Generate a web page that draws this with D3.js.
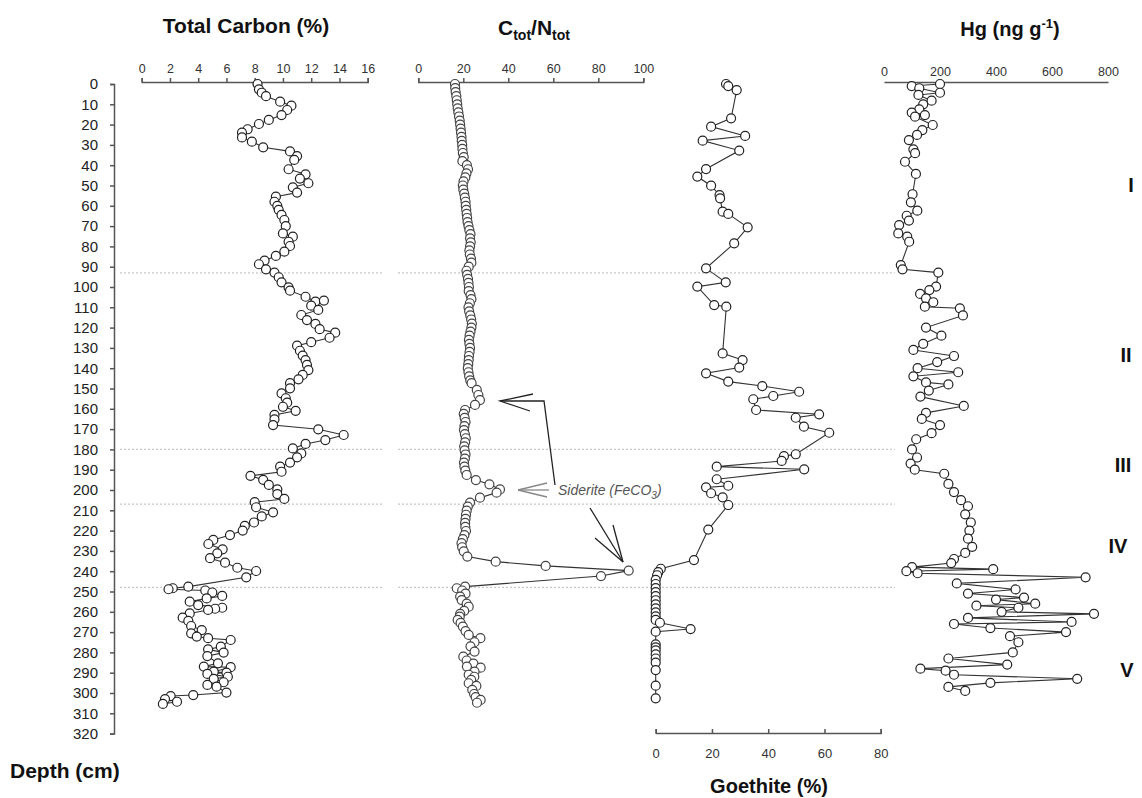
<!DOCTYPE html>
<html><head><meta charset="utf-8">
<script src="https://cdn.jsdelivr.net/npm/d3@7"></script>
<style>
body{margin:0;background:#fff;}
svg{font-family:"Liberation Sans",Arial,sans-serif;}
</style></head>
<body><svg id="c" width="1142" height="798"></svg>
<script>
// ---------- DATA ----------
const depthTicks = d3.range(0, 330, 10);
const tcTicks = [0,2,4,6,8,10,12,14,16];
const cnTicks = [0,20,40,60,80,100];
const goeTicks = [0,20,40,60,80];
const hgTicks = [0,200,400,600,800];
const zoneBounds = [93, 180, 207, 248];
const zoneLabels = ["I","II","III","IV","V"];

// Total carbon (%) : [depth cm, value]
const tcData = [[0,8.2],[2.6,8.3],[4.3,8.5],[6,8.8],[8.7,9.8],[10.7,10.6],[12.8,10.3],[15.3,9.9],[17.7,9.0],[19.7,8.3],[22.3,7.5],[24,7.1],[26.3,7.1],[28.4,7.8],[31.2,8.6],[33.2,10.5],[35.5,11.0],[37.4,10.8],[42,10.4],[44.5,11.6],[46.6,11.2],[48.9,11.8],[50.9,10.7],[53.5,11.0],[55.5,9.5],[58,9.4],[60,9.6],[62,9.7],[64.5,9.9],[67,10.1],[70,10.2],[73.6,10.0],[75.2,10.7],[77.7,10.4],[79.8,10.5],[82.6,10.1],[84.7,9.5],[87,8.7],[88.8,8.3],[91.3,8.8],[92.9,9.4],[95.2,9.7],[97.7,9.9],[100.2,10.4],[101.8,10.5],[104.8,11.6],[107.2,12.3],[106.7,12.9],[109.2,12.0],[111.3,12.5],[113.8,11.3],[116.3,11.7],[118.2,12.3],[120.8,12.6],[122.5,13.7],[125,13.3],[127.2,12.0],[128.9,11.0],[131.4,11.2],[133.8,11.4],[136,11.6],[138.4,11.7],[140.9,11.8],[143.3,11.4],[145.5,11.1],[147.4,10.5],[149.9,10.5],[152.4,9.9],[154.8,10.2],[157,10.3],[159,10.0],[161,10.9],[163,9.4],[165.2,9.4],[168,9.3],[170.1,12.5],[172.9,14.3],[175.4,13.0],[177.3,11.6],[179.5,10.7],[182,11.3],[183.9,11.0],[186.5,10.5],[188.5,9.8],[191,9.9],[193,7.7],[195,8.6],[197.5,9.0],[199.7,9.6],[202,9.6],[204.4,10.1],[206,8.0],[208.5,8.1],[211,9.3],[213,8.5],[216,7.95],[217.7,7.3],[220,7.15],[222.2,6.25],[224.6,5.07],[226.6,4.72],[229.2,5.73],[231.2,5.35],[233.6,4.84],[235.8,5.9],[238.3,6.77],[239.9,8.1],[243,7.4],[247.6,3.3],[248.4,2.2],[248.9,1.9],[249.5,4.5],[250.5,5.0],[252.2,5.7],[253.4,4.6],[255,3.4],[256.7,4.0],[258,5.7],[258.5,5.2],[259.1,4.7],[260.8,3.4],[262.9,2.9],[264.5,3.3],[267,3.5],[269,4.25],[270.6,3.5],[272.2,3.9],[273,4.7],[273.9,6.3],[277.2,5.6],[278.5,4.7],[280.1,5.8],[281.8,4.65],[285.4,5.4],[287,4.4],[287.3,6.3],[289.5,5.1],[290,6.0],[290.6,4.65],[292,6.1],[293,5.1],[294.7,5.8],[296,4.65],[296.9,5.3],[299.8,6.0],[301,3.65],[301.5,2.05],[303,1.65],[304.3,2.5],[305.4,1.5]];

// C/N ratio
const cnData = [[0,16.3],[2,16.4],[4,16.6],[6,16.9],[8,17.1],[10,17.3],[12,17.5],[14,17.8],[16,18.1],[18,18.4],[20,18.6],[22,18.8],[24,19.0],[26,19.2],[28,19.3],[30,19.5],[32,19.6],[34,19.8],[36,20.2],[38,19.6],[40,21.6],[42,22.1],[44,21.4],[46,20.9],[48,20.1],[50,19.8],[52,20.0],[54,20.4],[56,20.7],[58,21.0],[60,21.1],[62,21.3],[64,21.5],[66,21.7],[68,21.9],[70,22.3],[72,22.7],[74,23.2],[76,23.0],[78,23.3],[80,23.0],[82,22.7],[84,22.9],[86,23.4],[88,23.6],[90,22.4],[92,21.4],[94,21.7],[96,22.1],[98,22.3],[100,22.5],[102,22.4],[104,23.2],[106,23.6],[108,22.9],[110,22.3],[112,22.6],[114,23.1],[116,23.5],[118,23.8],[120,23.6],[122,23.2],[124,22.8],[126,22.5],[128,22.7],[130,23.0],[132,22.8],[134,22.5],[136,22.4],[138,22.2],[140,22.0],[142,22.3],[144,22.6],[146,23.1],[147.4,23.7],[150.7,26.0],[153.2,26.7],[155.7,27.4],[158.1,25.2],[160.6,20.8],[162.5,20.2],[164.5,20.6],[166.5,21.0],[168.5,20.5],[170.5,20.3],[172.5,20.7],[174.5,21.1],[176.5,20.8],[178.5,20.4],[180.5,20.6],[182.5,21.0],[184.5,20.7],[186.5,20.3],[188.5,20.5],[190.5,20.9],[192.6,21.5],[195.1,25.6],[197.2,31.6],[199.7,36.3],[201.3,34.8],[203.8,27.4],[206.2,23.0],[208.2,22.0],[210.2,21.5],[212.2,21.2],[214.2,21.0],[216.2,20.8],[218.2,20.9],[220.2,21.2],[222.2,20.5],[224.2,19.8],[226.2,19.2],[228.2,19.5],[230.2,20.2],[232.8,21.8],[235.3,34.4],[237.4,56.6],[239.7,93.5],[242.4,81.2],[247.6,20.8],[248.4,17.1],[249.5,19.5],[251,21.0],[252.5,18.6],[254.2,19.3],[256,21.5],[257.5,22.4],[259.5,20.4],[261,18.6],[262.4,18.4],[264,17.5],[265.5,18.8],[267.3,19.8],[269.5,21.0],[271.4,22.4],[273,27.6],[275,25.0],[277,23.2],[279.6,25.0],[282.1,20.0],[284,21.5],[285.5,24.5],[287,21.6],[287.5,27.7],[289.5,25.0],[291,22.4],[292,24.9],[293.5,23.5],[295.2,22.4],[296.5,25.8],[298.5,24.0],[300.5,24.8],[302,25.5],[303.4,27.7],[304.8,26.1]];

// Goethite (%)
const goeData = [[0,25],[1,25.8],[3,28.8],[16.9,26.8],[21,19.7],[25.6,31.8],[27.9,16.7],[32.8,29.7],[41.9,17.9],[45.6,14.8],[50.1,19.7],[54.7,22.7],[56.3,22.9],[62.9,23.8],[64,25.8],[70.6,32.7],[78.5,27.9],[90.8,17.9],[97.7,24.9],[99.8,14.8],[108.9,20.8],[109.7,25.1],[132.7,23.8],[136,30.9],[139.7,29.7],[142.5,17.9],[146.6,25.8],[148.8,37.9],[151.6,51],[153.7,41.8],[155.3,34.7],[160.6,35.7],[162.7,58.1],[164.4,49.8],[168.8,52.7],[171.8,61.7],[182.4,49.8],[183.3,45.6],[185.7,44.8],[188.5,21.7],[189.8,52.8],[194.7,21.7],[197.9,25.8],[198.7,17.9],[201.6,19.7],[203.6,23.8],[207.4,25.8],[219.5,18.7],[234.5,13.6],[238.8,1.8],[240.5,0.9],[242,0.5],[244.3,0],[246.3,0],[248.3,0],[250.3,0],[252.3,0],[254.3,0],[256.3,0],[258.3,0],[260.3,0],[262.3,0],[264,0],[265.4,1.5],[268.5,12.4],[269.8,0],[276,0],[277.5,0],[279,0],[281,0],[283,0],[285,0],[288.7,0],[296.4,0],[302.6,0]];

// Hg (ng/g)
const hgData = [[0,200],[1,99],[2.1,126],[4.3,200],[5.4,123],[8.2,170],[10,140],[12.5,126],[14.1,99],[15.3,146],[16.1,111],[20.2,174],[22.7,137],[25.1,118],[27.6,89],[32.2,105],[34.1,111],[38.3,75],[44.3,114],[54.3,102],[58.3,96],[62.4,119],[64.9,81],[67.3,89],[69.5,54],[73.6,51],[75.2,83],[77.7,90],[89.2,60],[91.3,66],[92.9,194],[99.8,186],[101.5,162],[103.4,129],[105.6,150],[107.5,176],[109.7,146],[110.5,271],[114,282],[120,150],[124,205],[128,140],[131,105],[134,250],[137,190],[140,120],[142,265],[144,105],[147,150],[148,230],[151,160],[154,130],[158.6,285],[162,150],[165,135],[168,200],[172,170],[175,115],[180,100],[184,118],[187,95],[190,110],[192,215],[197,230],[201,250],[205,275],[208,300],[212,290],[216,310],[220,305],[224,300],[228,315],[231,290],[234,250],[236,240],[238,100],[239,390],[240,80],[241,120],[243,720],[246,260],[249,470],[251,300],[253,500],[254,400],[256,540],[257,330],[258,480],[260,420],[261,750],[263,300],[265,670],[266,250],[268,380],[270,650],[272,450],[275,480],[280,460],[283,230],[286,440],[288,130],[289,220],[291,250],[293,690],[295,380],[297,230],[299,290]];

// ---------- SCALES ----------
const svg = d3.select("#c");
const y = d3.scaleLinear().domain([0,320]).range([84,733.6]);
const xTC = d3.scaleLinear().domain([0,16]).range([141.7,367.7]);
const xCN = d3.scaleLinear().domain([0,100]).range([418.3,643.3]);
const xG  = d3.scaleLinear().domain([0,80]).range([655.7,880.7]);
const xHg = d3.scaleLinear().domain([0,800]).range([884,1108]);

// zone dotted lines
zoneBounds.forEach(d=>{
  [[120,382],[398,895]].forEach(s=>{
    svg.append("line").attr("x1",s[0]).attr("x2",s[1])
      .attr("y1",y(d)).attr("y2",y(d))
      .attr("stroke","#c8c8c8").attr("stroke-width",1.2).attr("stroke-dasharray","2,2");
  });
});

// ---------- AXES ----------
function styleAxis(g, fs){
  g.select(".domain").attr("stroke","#555").attr("stroke-width",1.5);
  g.selectAll(".tick line").attr("stroke","#555").attr("stroke-width",1.5);
  g.selectAll(".tick text").attr("fill","#333").attr("font-size",fs).attr("font-family","Liberation Sans, Arial, sans-serif");
}
const gD = svg.append("g").attr("transform","translate(114,0)")
  .call(d3.axisLeft(y).tickValues(depthTicks).tickSize(4).tickPadding(12));
styleAxis(gD,15);
gD.selectAll(".tick text").attr("fill","#222");

const gTC = svg.append("g").attr("transform","translate(0,82)")
  .call(d3.axisTop(xTC).tickValues(tcTicks).tickSize(4).tickPadding(5));
styleAxis(gTC,12.5);

const gCN = svg.append("g").attr("transform","translate(0,82)")
  .call(d3.axisTop(xCN).tickValues(cnTicks).tickSize(4).tickPadding(5));
styleAxis(gCN,12.5);

const gG = svg.append("g").attr("transform","translate(0,733)")
  .call(d3.axisBottom(xG).tickValues(goeTicks).tickSizeInner(-4).tickSizeOuter(-4).tickPadding(16));
styleAxis(gG,13);

const gH = svg.append("g").attr("transform","translate(0,82)")
  .call(d3.axisTop(xHg).tickValues(hgTicks).tickSize(0).tickPadding(6));
styleAxis(gH,12.5);

// ---------- SERIES ----------
function series(data, xs, stroke){
  const line = d3.line().x(d=>xs(d[1])).y(d=>y(d[0]));
  svg.append("path").datum(data).attr("d",line)
    .attr("fill","none").attr("stroke","#333").attr("stroke-width",1.1);
  svg.append("g").selectAll("circle").data(data).join("circle")
    .attr("cx",d=>xs(d[1])).attr("cy",d=>y(d[0])).attr("r",4.5)
    .attr("fill","#fff").attr("stroke",stroke).attr("stroke-width",1.2);
}
series(tcData,xTC,"#222");
series(cnData,xCN,"#444");
series(goeData,xG,"#222");
series(hgData,xHg,"#222");

// ---------- TEXT ----------
function txt(x,yy,s,anchor,fs){
  return svg.append("text").attr("x",x).attr("y",yy).attr("text-anchor",anchor||"middle")
    .attr("font-weight","bold").attr("font-size",fs||21).attr("fill","#111").text(s);
}
txt(246,33,"Total Carbon (%)");
const cn = svg.append("text").attr("x",534).attr("y",35).attr("text-anchor","middle")
  .attr("font-weight","bold").attr("font-size",21).attr("fill","#111");
cn.append("tspan").text("C");
cn.append("tspan").attr("font-size",14).attr("dy",5).text("tot");
cn.append("tspan").attr("dy",-5).text("/N");
cn.append("tspan").attr("font-size",14).attr("dy",5).text("tot");
const hg = svg.append("text").attr("x",1010).attr("y",36).attr("text-anchor","middle")
  .attr("font-weight","bold").attr("font-size",20).attr("fill","#111");
hg.append("tspan").text("Hg (ng g");
hg.append("tspan").attr("font-size",13).attr("dy",-8).text("-1");
hg.append("tspan").attr("dy",8).text(")");
txt(769,793,"Goethite (%)","middle",20);
txt(10,778,"Depth (cm)","start",21);
zoneLabels.forEach((l,i)=>{
  txt([1131,1126,1123,1118,1127][i],[192,362,472,553,677][i],l,"middle",20);
});

// ---------- ANNOTATIONS ----------
const sid = svg.append("text").attr("x",558).attr("y",495).attr("font-style","italic")
  .attr("font-size",14).attr("fill","#555");
sid.append("tspan").text("Siderite (FeCO");
sid.append("tspan").attr("font-size",10).attr("dy",4).text("3");
sid.append("tspan").attr("dy",-4).text(")");

const ann = svg.append("g").attr("fill","none").attr("stroke","#222").attr("stroke-width",1.3);
ann.append("polyline").attr("points","555,485 544,401 500,401");
ann.append("polyline").attr("points","533,394 500,401 530,411");
ann.append("line").attr("x1",590).attr("y1",508).attr("x2",623).attr("y2",562);
ann.append("line").attr("x1",613).attr("y1",525).attr("x2",623).attr("y2",562);
ann.append("line").attr("x1",595).attr("y1",538).attr("x2",623).attr("y2",562);
const ann2 = svg.append("g").attr("fill","none").attr("stroke","#888").attr("stroke-width",1.3);
ann2.append("line").attr("x1",518).attr("y1",490).attr("x2",549).attr("y2",490);
ann2.append("line").attr("x1",518).attr("y1",490).attr("x2",547).attr("y2",483);
ann2.append("line").attr("x1",518).attr("y1",490).attr("x2",547).attr("y2",497);
</script></body></html>
